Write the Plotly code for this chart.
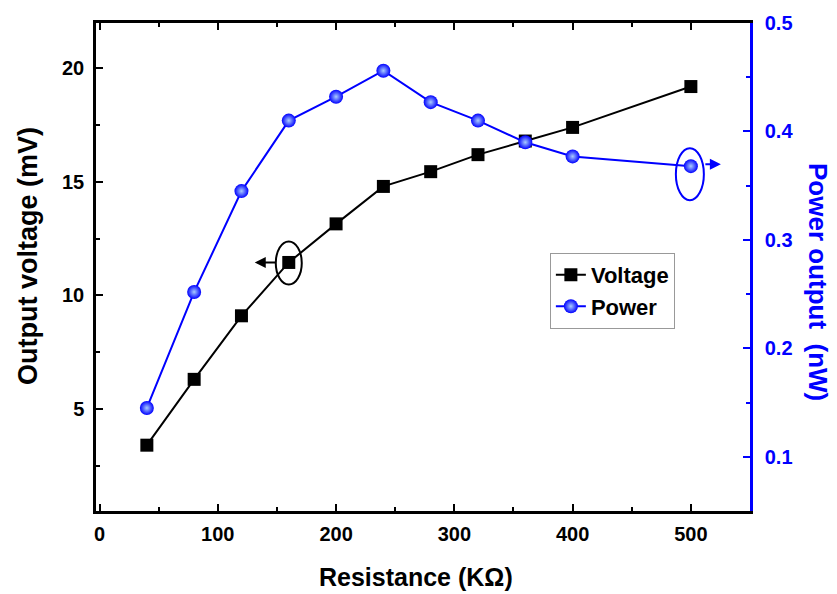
import plotly.graph_objects as go

resistance = [40, 80, 120, 160, 200, 240, 280, 320, 360, 400, 500]
voltage = [3.4, 6.3, 9.1, 11.45, 13.15, 14.8, 15.45, 16.2, 16.8, 17.4, 19.2]
power = [0.145, 0.252, 0.345, 0.410, 0.432, 0.456, 0.427, 0.410, 0.390, 0.377, 0.368]

x_ticks = [0, 100, 200, 300, 400, 500]
v_ticks = [5, 10, 15, 20]
p_ticks = [0.1, 0.2, 0.3, 0.4, 0.5]

BLUE = "#0000FF"
FONT = "Arial, Liberation Sans, sans-serif"

fig = go.Figure()
fig.add_trace(go.Scatter(
    x=resistance, y=voltage, name="Voltage", mode="lines+markers",
    line=dict(color="black", width=2),
    marker=dict(symbol="square", size=13, color="black"),
    yaxis="y",
))
fig.add_trace(go.Scatter(
    x=resistance, y=power, name="Power", mode="lines+markers",
    line=dict(color=BLUE, width=2),
    marker=dict(symbol="circle", size=14, color=BLUE,
                gradient=dict(type="radial", color="#A9CCFF"),
                line=dict(width=0)),
    yaxis="y2",
))

tickfont = dict(family=FONT, size=20, color="black", weight="bold")

fig.update_layout(
    width=829, height=586,
    margin=dict(l=88, r=87, t=15, b=83, autoexpand=False),
    paper_bgcolor="white", plot_bgcolor="white",
    font=dict(family=FONT, weight="bold"),
    showlegend=True,
    legend=dict(
        x=0.694, y=0.529, xanchor="left", yanchor="top",
        bgcolor="white", bordercolor="#999999", borderwidth=1,
        font=dict(family=FONT, size=22, color="black", weight="bold"),
        itemwidth=30, tracegroupgap=0,
    ),
    xaxis=dict(
        range=[-3, 550], tickvals=x_ticks, ticktext=[str(v) for v in x_ticks],
        showgrid=False, zeroline=False, automargin=False,
        showline=True, linecolor="black", linewidth=2.5, mirror="ticks",
        ticks="inside", ticklen=7, tickwidth=2, tickcolor="black",
        minor=dict(tickvals=[50, 150, 250, 350, 450], ticks="inside", ticklen=4,
                   tickwidth=2, tickcolor="black"),
        tickfont=tickfont, ticklabelstandoff=3,
    ),
    yaxis=dict(
        range=[0.5, 22], tickvals=v_ticks, ticktext=[str(v) for v in v_ticks],
        showgrid=False, zeroline=False, automargin=False,
        showline=True, linecolor="black", linewidth=2.5,
        ticks="inside", ticklen=7, tickwidth=2, tickcolor="black",
        minor=dict(tickvals=[2.5, 7.5, 12.5, 17.5], ticks="inside", ticklen=4,
                   tickwidth=2, tickcolor="black"),
        tickfont=tickfont, ticklabelstandoff=5,
    ),
    yaxis2=dict(
        range=[0.05, 0.5], tickvals=p_ticks, ticktext=[f"{v:.1f}" for v in p_ticks],
        overlaying="y", side="right", anchor="x", automargin=False,
        showgrid=False, zeroline=False,
        showline=True, linecolor=BLUE, linewidth=2.5,
        ticks="inside", ticklen=7, tickwidth=2, tickcolor=BLUE,
        minor=dict(tickvals=[0.15, 0.25, 0.35, 0.45], ticks="inside", ticklen=4,
                   tickwidth=2, tickcolor=BLUE),
        tickfont=dict(family=FONT, size=20, color=BLUE, weight="bold"),
        ticklabelstandoff=8,
    ),
)

# axis titles
fig.add_annotation(
    text="Resistance (KΩ)", showarrow=False,
    xref="paper", yref="paper", x=0.5, y=0, xanchor="center", yanchor="middle",
    xshift=-7, yshift=-66,
    font=dict(family=FONT, size=25, color="black", weight="bold"),
)
fig.add_annotation(
    text="Output voltage (mV)", textangle=-90, showarrow=False,
    xref="paper", yref="paper", x=0, y=0.5, xanchor="center", yanchor="middle",
    xshift=-68, yshift=11,
    font=dict(family=FONT, size=27, color="black", weight="bold"),
)
fig.add_annotation(
    text="Power output  (nW)", textangle=90, showarrow=False,
    xref="paper", yref="paper", x=1.0, y=0.5, xanchor="center", yanchor="middle",
    xshift=68, yshift=-15,
    font=dict(family=FONT, size=26, color=BLUE, weight="bold"),
)

# ellipse + arrow marking the voltage series (left axis)
vi = resistance.index(160)
fig.add_shape(type="circle", xref="x", yref="y",
              xsizemode="pixel", ysizemode="pixel",
              xanchor=resistance[vi], yanchor=voltage[vi],
              x0=-13, x1=13, y0=-22, y1=21,
              line=dict(color="black", width=2))
fig.add_annotation(xref="x", yref="y", x=resistance[vi], y=voltage[vi],
                   xshift=-34, yshift=0, ax=22, ay=0, text="", showarrow=True,
                   arrowhead=2, arrowsize=1.1, arrowwidth=2, arrowcolor="black")

# ellipse + arrow marking the power series (right axis)
pi = resistance.index(500)
fig.add_shape(type="circle", xref="x", yref="y2",
              xsizemode="pixel", ysizemode="pixel",
              xanchor=resistance[pi], yanchor=power[pi],
              x0=-15, x1=13, y0=-34, y1=18,
              line=dict(color=BLUE, width=2))
fig.add_annotation(xref="x", yref="y2", x=resistance[pi], y=power[pi],
                   xshift=30, yshift=2, ax=-17, ay=0, text="", showarrow=True,
                   arrowhead=2, arrowsize=1.1, arrowwidth=2, arrowcolor=BLUE)

fig.write_html("out.html")
